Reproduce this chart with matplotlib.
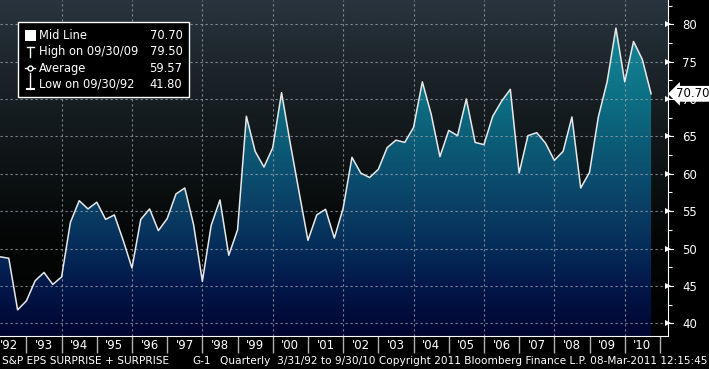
import matplotlib
matplotlib.use("Agg")
import matplotlib.pyplot as plt
import numpy as np
from matplotlib.colors import LinearSegmentedColormap
from matplotlib.patches import Polygon, Rectangle
from matplotlib.transforms import blended_transform_factory
from matplotlib.ticker import MultipleLocator

# quarterly S&P EPS surprise %, 3/31/92 .. 9/30/10
quarter_end = np.arange(1992.25, 2010.76, 0.25)
surprise = [48.9, 48.7, 41.8, 43.0, 45.7, 46.8, 45.2, 46.2,
            53.5, 56.4, 55.3, 56.2, 53.9, 54.5, 51.1, 47.4,
            53.9, 55.3, 52.4, 54.0, 57.3, 58.1, 53.2, 45.6,
            53.1, 56.5, 49.1, 52.5, 67.7, 63.0, 60.9, 63.5,
            70.85, 64.0, 57.5, 51.1, 54.5, 55.25, 51.4, 55.4,
            62.2, 60.1, 59.5, 60.6, 63.5, 64.5, 64.2, 66.2,
            72.3, 68.0, 62.3, 65.8, 65.1, 70.0, 64.2, 63.9,
            67.7, 69.7, 71.3, 60.1, 65.1, 65.5, 64.1, 61.8,
            63.0, 67.6, 58.1, 60.2, 67.6, 72.3, 79.5, 72.3,
            77.7, 75.3, 70.7]

years = list(range(1992, 2011))
year_labels = ["'%02d" % (y % 100) for y in years]
y_ticks = [40, 45, 50, 55, 60, 65, 70, 75, 80]

legend_labels = ["Mid Line", "High on 09/30/09", "Average", "Low on 09/30/92"]
legend_values = ["70.70", "79.50", "59.57", "41.80"]

footer = "S&P EPS SURPRISE + SURPRISE"
footer_code = "G-1"
footer_info = "Quarterly  3/31/92 to 9/30/10 Copyright 2011 Bloomberg Finance L.P. 08-Mar-2011 12:15:45"

W, H = 709, 369
fig = plt.figure(figsize=(W / 100, H / 100), dpi=100, facecolor="black")
ax = fig.add_axes([0, 1 - 336 / H, 668 / W, 336 / H])
x0, x1 = 1992.25, 2011.23
y0, y1 = 38.3, 83.25
ax.set_xlim(x0, x1)
ax.set_ylim(y0, y1)
ax.set_facecolor("black")

# background gradient
bg_cmap = LinearSegmentedColormap.from_list("bg", [
    (0.0, "#000000"), (0.3, "#050707"), (0.45, "#0b1011"),
    (0.6, "#12181b"), (0.8, "#1c252b"), (1.0, "#29343e")])
grad = np.linspace(1, 0, 256).reshape(-1, 1)
ax.imshow(grad, extent=[x0, x1, y0, y1], aspect="auto", cmap=bg_cmap,
          zorder=0, interpolation="bilinear")

# area fill gradient clipped to the data polygon
fill_cmap = LinearSegmentedColormap.from_list("fill", [
    (0.0, "#000530"), (0.15, "#03184a"), (0.26, "#052c58"),
    (0.37, "#0a3d63"), (0.48, "#0b4e6f"), (0.6, "#0c5f78"),
    (0.7, "#0d6e83"), (0.82, "#117d8e"), (1.0, "#198d9e")])
fim = ax.imshow(grad, extent=[x0, x1, y0, y1], aspect="auto", cmap=fill_cmap,
                zorder=1, interpolation="bilinear")
verts = list(zip(quarter_end, surprise)) + [(quarter_end[-1], y0), (quarter_end[0], y0)]
poly = Polygon(verts, closed=True, facecolor="none", edgecolor="none")
ax.add_patch(poly)
fim.set_clip_path(poly)

# grid
grid_kw = dict(color="#9aa3aa", lw=0.8, linestyle=(0, (2, 2.5)), zorder=2, alpha=0.8)
for v in y_ticks:
    ax.axhline(v, **grid_kw)
for y in years:
    if y % 2 == 0 and y > 1992:
        ax.axvline(y, **grid_kw)

ax.plot(quarter_end, surprise, color="#e8e8e8", lw=1.1, zorder=3)

# axes styling
for s in ["top", "left"]:
    ax.spines[s].set_visible(False)
ax.spines["right"].set_color("white")
ax.spines["bottom"].set_color("white")
ax.spines["right"].set_zorder(5)
ax.spines["bottom"].set_zorder(5)

ax.yaxis.tick_right()
ax.set_yticks(y_ticks)
ax.set_yticklabels([str(v) for v in y_ticks])
ax.yaxis.set_minor_locator(MultipleLocator(2.5))
ax.tick_params(axis="y", which="major", length=0, pad=10, labelcolor="white",
               labelsize=8.5)
ax.tick_params(axis="y", which="minor", length=3, width=0.8, color="white")
ytr = blended_transform_factory(ax.transAxes, ax.transData)
ax.plot([1.0] * len(y_ticks), y_ticks, marker=">", ls="none", ms=5,
        color="white", transform=ytr, clip_on=False, zorder=6,
        markeredgewidth=0)
for v in y_ticks:
    ax.plot([1.0, 1.008], [v, v], color="white", lw=0.8, transform=ytr,
            clip_on=False, zorder=6)

ax.set_xticks(years[1:] + [2011])
ax.set_xticklabels([])
ax.set_xticks([y + 0.5 for y in years], minor=True)
ax.set_xticklabels(year_labels, minor=True)
ax.tick_params(axis="x", which="major", length=12, width=1, color="#b0b0b0",
               direction="out")
ax.tick_params(axis="x", which="minor", length=0, pad=2, labelcolor="white",
               labelsize=8.5)

# last value tag
ax.annotate(legend_values[0], xy=(1.0, surprise[-1]), xycoords=ytr,
            xytext=(6, 0), textcoords="offset points", ha="left", va="center",
            fontsize=8.5, color="black", zorder=10, annotation_clip=False,
            bbox=dict(boxstyle="larrow,pad=0.12", fc="white", ec="none"))

# overlay for legend and footer (pixel coords)
ov = fig.add_axes([0, 0, 1, 1], facecolor="none")
ov.set_xlim(0, W)
ov.set_ylim(H, 0)
ov.axis("off")
ov.add_patch(Rectangle((17.5, 21.5), 171, 75, fc="black", ec="white", lw=1))
rows = [35.7, 51.7, 68.3, 84.2]
for r, lab, val in zip(rows, legend_labels, legend_values):
    ov.text(39, r, lab, color="white", fontsize=8.3, va="center", ha="left")
    ov.text(182.5, r, val, color="white", fontsize=8.3, va="center", ha="right")
ov.add_patch(Rectangle((24.5, 29.5), 11, 11, fc="white", ec="none"))
ov.plot([26.5, 33.5], [46.5, 46.5], color="white", lw=1)
ov.plot([30, 30], [46.5, 57], color="white", lw=1)
ov.plot([25, 35], [68, 68], color="white", lw=1)
ov.plot([30], [68], marker="o", ms=3.5, mfc="black", mec="white", mew=1)
ov.plot([30, 30], [73, 88.5], color="white", lw=1)
ov.plot([26.5, 33.5], [88.5, 88.5], color="white", lw=1.5)

ov.text(2, 361, footer, color="white", fontsize=7.6, va="center", ha="left")
ov.text(192, 361, footer_code, color="white", fontsize=7.6, va="center", ha="left")
ov.text(707, 361, footer_info, color="white", fontsize=7.6, va="center", ha="right")

fig.savefig("out.png", dpi=100, facecolor="black")
